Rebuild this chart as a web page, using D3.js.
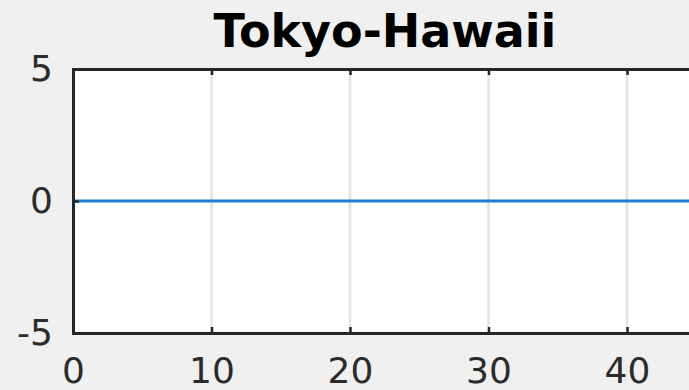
<!DOCTYPE html>
<html>
<head>
<meta charset="utf-8">
<script src="https://cdn.jsdelivr.net/npm/d3@7"></script>
<style>
  html, body { margin: 0; padding: 0; background: #f0f0f0; }
  svg { display: block; }
</style>
</head>
<body>
<svg id="chart" width="689" height="390"></svg>
<script>
// Route deviation along the Tokyo-Hawaii leg
const chartTitle = "Tokyo-Hawaii";
const distance = [0, 10, 20, 30, 40, 50];
const deviation = [0, 0, 0, 0, 0, 0];
const xTicks = [0, 10, 20, 30, 40];
const yTicks = [-5, 0, 5];

const svg = d3.select("#chart");
const W = 689, H = 390;

const plotLeft = 73, plotTop = 69, plotBottom = 333;
const x = d3.scaleLinear().domain([0, 50]).range([plotLeft, plotLeft + 692.5]);
const y = d3.scaleLinear().domain([-5, 5]).range([plotBottom, plotTop]);
const plotRight = x(50);

svg.append("rect").attr("width", W).attr("height", H).attr("fill", "#f0f0f0");

// plot area
svg.append("rect")
  .attr("x", plotLeft).attr("y", plotTop)
  .attr("width", plotRight - plotLeft).attr("height", plotBottom - plotTop)
  .attr("fill", "#ffffff");

// vertical grid
svg.append("g")
  .selectAll("line")
  .data(xTicks.filter(d => d > 0))
  .join("line")
  .attr("x1", d => x(d)).attr("x2", d => x(d))
  .attr("y1", plotTop).attr("y2", plotBottom)
  .attr("stroke", "#e3e3e3")
  .attr("stroke-width", 2.5);

// data line
svg.append("path")
  .datum(distance.map((d, i) => [d, deviation[i]]))
  .attr("fill", "none")
  .attr("stroke", "#1f7fcf")
  .attr("stroke-width", 3)
  .attr("d", d3.line().x(d => x(d[0])).y(d => y(d[1])));

// axes
const axisColor = "#262626";
const fontFamily = "'DejaVu Sans', sans-serif";
const fmt = d => String(d);   // plain hyphen for negatives

const xAxis = svg.append("g")
  .attr("transform", `translate(0,${plotBottom})`)
  .call(d3.axisBottom(x).tickValues(xTicks).tickSize(-6).tickPadding(24).tickFormat(fmt));
const xTop = svg.append("g")
  .attr("transform", `translate(0,${plotTop})`)
  .call(d3.axisTop(x).tickValues(xTicks).tickSize(-6).tickFormat(""));
const yAxis = svg.append("g")
  .attr("transform", `translate(${plotLeft},0)`)
  .call(d3.axisLeft(y).tickValues(yTicks).tickSize(-6).tickPadding(20).tickFormat(fmt));

[xAxis, xTop, yAxis].forEach(g => {
  g.select(".domain").attr("stroke", axisColor).attr("stroke-width", 3);
  g.selectAll(".tick line").attr("stroke", axisColor).attr("stroke-width", 2.5);
  g.selectAll(".tick text")
    .attr("fill", "#2b2b2b")
    .style("font-family", fontFamily)
    .style("font-size", "36px");
});
xAxis.selectAll(".tick text").attr("dy", "0.71em");
yAxis.selectAll(".tick text").attr("dy", "0.32em");

// title
svg.append("text")
  .attr("x", 385).attr("y", 47)
  .attr("text-anchor", "middle")
  .style("font-family", fontFamily)
  .style("font-weight", "bold")
  .style("font-size", "46px")
  .attr("fill", "#000000")
  .text(chartTitle);
</script>
</body>
</html>
